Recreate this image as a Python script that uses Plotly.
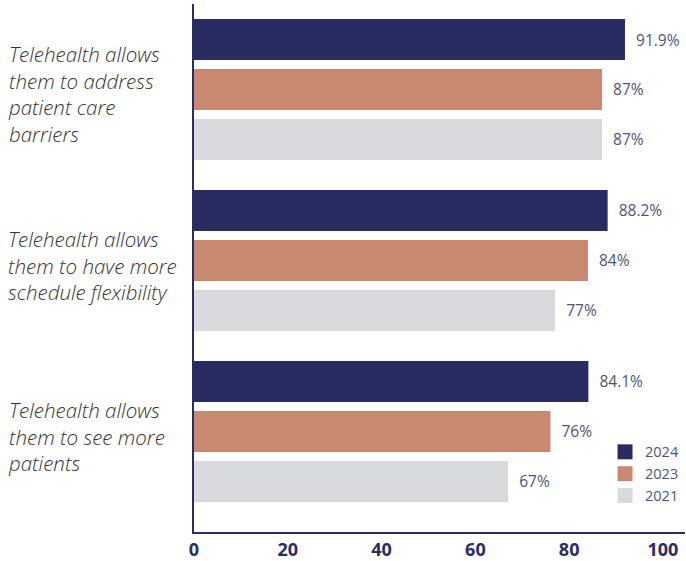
import plotly.graph_objects as go

categories = [
    "Telehealth allows<br>them to address<br>patient care<br>barriers",
    "Telehealth allows<br>them to have more<br>schedule flexibility",
    "Telehealth allows<br>them to see more<br>patients",
]
years = ["2024", "2023", "2021"]
values_2024 = [91.9, 88.2, 84.1]
values_2023 = [87, 84, 76]
values_2021 = [87, 77, 67]
labels_2024 = ["91.9%", "88.2%", "84.1%"]
labels_2023 = ["87%", "84%", "76%"]
labels_2021 = ["87%", "77%", "67%"]
x_ticks = [0, 20, 40, 60, 80, 100]

colors = {"2024": "#292c61", "2023": "#c98870", "2021": "#d8d9dd"}
navy = "#2b2d62"
label_color = "#4d5577"
font_family = "Open Sans"

series = [
    ("2024", values_2024, labels_2024),
    ("2023", values_2023, labels_2023),
    ("2021", values_2021, labels_2021),
]

ypos = list(range(len(categories)))

fig = go.Figure()
for name, vals, labs in series:
    fig.add_trace(go.Bar(
        x=vals, y=ypos, orientation="h", name=name,
        marker=dict(color=colors[name], line=dict(width=0)),
        text=["  " + t for t in labs], textposition="outside",
        textfont=dict(family=font_family, size=15.5, color=label_color),
        constraintext="none", cliponaxis=False, showlegend=False,
        hoverinfo="skip",
    ))

for name, _, _ in series:
    fig.add_trace(go.Scatter(
        x=[None], y=[None], mode="markers", name=name,
        marker=dict(symbol="square", size=15, color=colors[name]),
    ))

for i, cat in enumerate(categories):
    fig.add_annotation(
        text=cat, xref="paper", yref="y", x=-0.382, y=i,
        xanchor="left", yanchor="middle", align="left", showarrow=False,
        yshift=-5,
        font=dict(family=font_family, size=20.5, color="#333333",
                  style="italic", weight=300),
    )

fig.update_layout(
    width=686, height=561,
    margin=dict(l=194, r=1, t=4, b=29),
    paper_bgcolor="white", plot_bgcolor="white",
    barmode="group", bargap=0.123, bargroupgap=0.18,
    showlegend=True,
    legend=dict(
        x=0.998, y=0.182, xanchor="right", yanchor="top",
        font=dict(family=font_family, size=14.5, color=label_color),
        bgcolor="rgba(0,0,0,0)", itemsizing="trace", traceorder="normal",
    ),
    xaxis=dict(
        range=[0, 104.7], tickvals=x_ticks, ticktext=[str(t) for t in x_ticks],
        showgrid=False, zeroline=False, showline=True, linecolor=navy,
        linewidth=2, ticks="",
        tickfont=dict(family=font_family, size=18, color=navy, weight="bold"),
    ),
    yaxis=dict(
        range=[len(categories) - 0.5 + 0.088, -0.5],
        showticklabels=False, showgrid=False, zeroline=False,
        showline=True, linecolor=navy, linewidth=2, ticks="",
    ),
)

fig.write_html("out.html", config={"displayModeBar": False},
               post_script="document.body.style.margin='0px';")
